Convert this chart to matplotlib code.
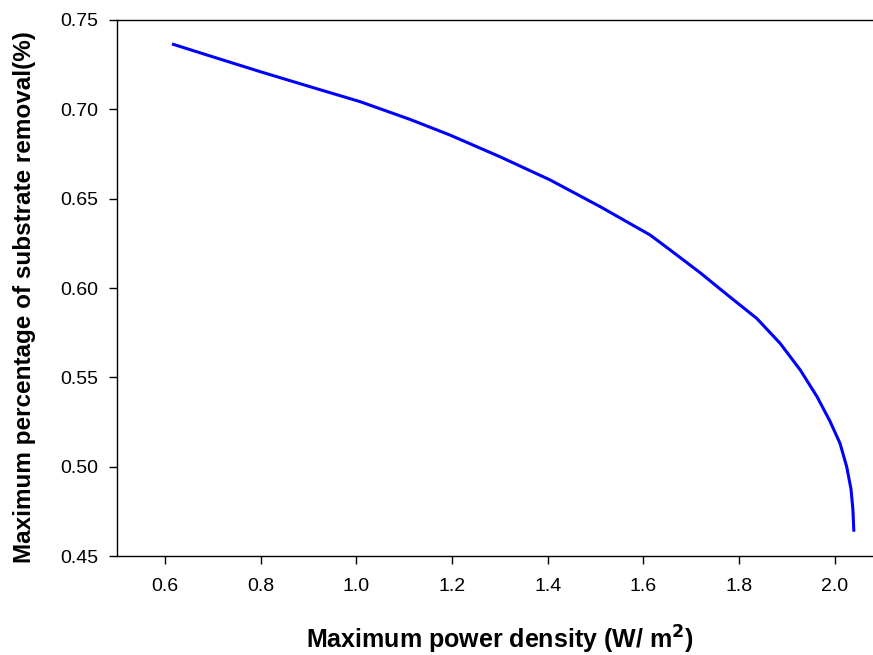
import numpy as np
import matplotlib.pyplot as plt

plt.rcParams['font.family'] = ['Liberation Sans', 'DejaVu Sans']

# values
power_density = [0.615, 0.694, 0.799, 0.903, 1.008, 1.112, 1.196, 1.300,
                 1.405, 1.510, 1.614, 1.656, 1.719, 1.774, 1.837, 1.886,
                 1.928, 1.963, 1.990, 2.011, 2.025, 2.034, 2.038, 2.040]
substrate_removal = [0.7366, 0.7299, 0.7211, 0.7127, 0.7043, 0.6944, 0.6856,
                     0.6735, 0.6605, 0.6455, 0.6297, 0.6213, 0.6085, 0.5965,
                     0.5830, 0.5690, 0.5541, 0.5392, 0.5255, 0.5131, 0.5000,
                     0.4875, 0.4760, 0.4636]

xticks = [0.6, 0.8, 1.0, 1.2, 1.4, 1.6, 1.8, 2.0]
yticks = [0.45, 0.50, 0.55, 0.60, 0.65, 0.70, 0.75]

fig = plt.figure(figsize=(8.73, 6.55), dpi=100)
ax = fig.add_axes([0.134, 0.1511, 0.866, 0.8184])

ax.plot(power_density, substrate_removal, color='#0000ff', linewidth=2.2,
        solid_capstyle='butt', solid_joinstyle='round')

ax.set_xlim(0.5, 2.08)
ax.set_ylim(0.45, 0.75)
ax.set_xticks(xticks)
ax.set_xticklabels([f"{v:.1f}" for v in xticks])
ax.set_yticks(yticks)
ax.set_yticklabels([f"{v:.2f}" for v in yticks])

ax.spines['right'].set_visible(False)
for s in ['left', 'bottom', 'top']:
    ax.spines[s].set_linewidth(1.0)

ax.tick_params(direction='out', length=5.5, width=1.0, labelsize=14,
               top=False, right=False)
ax.tick_params(axis='x', pad=10)
ax.tick_params(axis='y', pad=8)

ax.set_xlabel("Maximum power density (W/ m$^\\mathbf{2}$)", fontsize=18,
              fontweight='bold', labelpad=21)
ax.set_ylabel("Maximum percentage of substrate removal(%)", fontsize=17.5,
              fontweight='bold', labelpad=17)
ax.xaxis.label.set_x(0.507)
ax.yaxis.label.set_y(0.483)

fig.savefig("out.png", dpi=100)
